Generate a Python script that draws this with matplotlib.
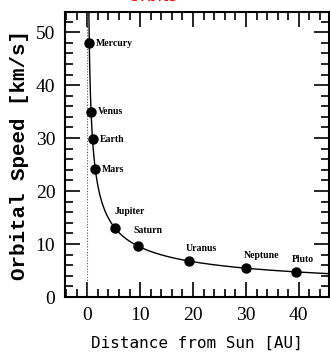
import numpy as np
import matplotlib
matplotlib.use("Agg")
import matplotlib.pyplot as plt
from matplotlib.ticker import MultipleLocator

planets = ["Mercury", "Venus", "Earth", "Mars", "Jupiter", "Saturn", "Uranus", "Neptune", "Pluto"]
distance_au = [0.39, 0.72, 1.0, 1.52, 5.2, 9.54, 19.2, 30.1, 39.5]
speed_kms = [47.9, 35.0, 29.8, 24.1, 13.1, 9.7, 6.8, 5.4, 4.7]
kepler_const = 29.78  # km/s at 1 AU
xticks = [0, 10, 20, 30, 40]
yticks = [0, 10, 20, 30, 40, 50]

fig = plt.figure(figsize=(3.30, 3.58), dpi=100)
ax = fig.add_axes([65/330, 61/358, 264/330, 285/358])

r = np.linspace(0.30, 47, 600)
ax.plot(r, kepler_const / np.sqrt(r), color="black", lw=1.0)
ax.axvline(0, color="#555555", lw=0.8, ls=(0, (1, 1.5)))
ax.plot(distance_au, speed_kms, "o", color="black", ms=6.5)

label_offsets = {
    "Mercury": (5, 0, "left", "center"),
    "Venus": (5, 0, "left", "center"),
    "Earth": (5, 0, "left", "center"),
    "Mars": (5, 0, "left", "center"),
    "Jupiter": (0, 8, "left", "bottom"),
    "Saturn": (-3, 8, "left", "bottom"),
    "Uranus": (-2, 6, "left", "bottom"),
    "Neptune": (-2, 6, "left", "bottom"),
    "Pluto": (-3, 6, "left", "bottom"),
}
for name, x, y in zip(planets, distance_au, speed_kms):
    dx, dy, ha, va = label_offsets[name]
    ax.annotate(name, (x, y), xytext=(dx, dy), textcoords="offset points",
                ha=ha, va=va, fontsize=7, fontweight="bold", family="Liberation Serif")

ax.set_xlim(-4.2, 45.7)
ax.set_ylim(0, 53.8)
ax.set_xticks(xticks)
ax.set_yticks(yticks)
ax.xaxis.set_minor_locator(MultipleLocator(2))
ax.yaxis.set_minor_locator(MultipleLocator(2))
ax.tick_params(which="both", direction="in", top=True, right=True, width=1.2, colors="black")
ax.tick_params(which="major", length=11, labelsize=14, pad=7)
ax.tick_params(which="minor", length=6)
for lab in ax.get_xticklabels() + ax.get_yticklabels():
    lab.set_family("Liberation Serif")
for s in ax.spines.values():
    s.set_linewidth(1.5)

ax.set_xlabel("Distance from Sun [AU]", family="DejaVu Sans Mono", fontsize=11.5, labelpad=9)
ax.set_ylabel("Orbital Speed [km/s]", family="Liberation Mono", fontweight="bold", fontsize=15, labelpad=5)

fig.text(152/330, 1 - 1/358, "Orbits", color="red", ha="center", va="baseline", fontsize=12)

fig.savefig("out.png", dpi=100)
